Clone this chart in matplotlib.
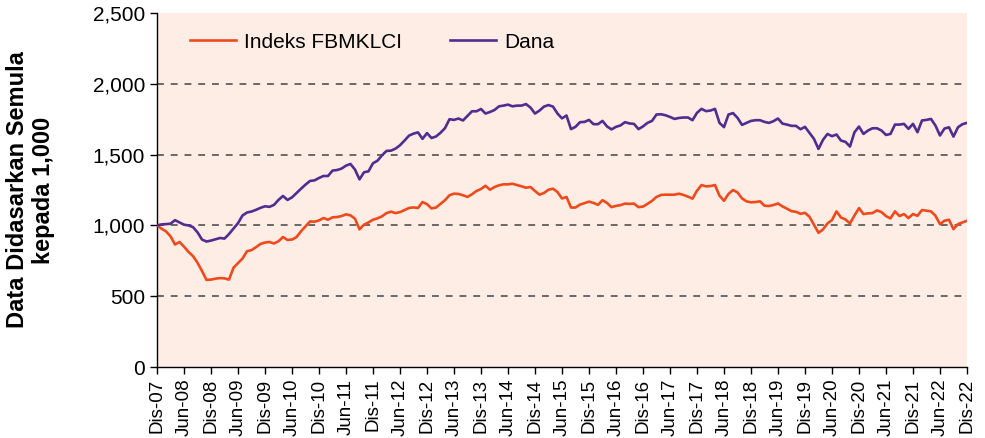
import matplotlib
matplotlib.use('Agg')
from matplotlib import pyplot as plt
import numpy as np

plt.rcParams['font.family'] = ['Liberation Sans', 'DejaVu Sans']

# nilai bulanan Dis-07 .. Dis-22 (asas 1,000)
fbmklci = [
    1000, 977, 958, 923, 865, 883, 850, 813, 783, 736, 678, 615,
    617, 624, 628, 626, 617, 701, 734, 766, 818, 825, 846, 869,
    879, 883, 872, 888, 918, 897, 900, 917, 958, 993, 1028, 1026,
    1035, 1052, 1040, 1057, 1059, 1066, 1078, 1071, 1047, 972, 1005, 1021,
    1040, 1050, 1064, 1087, 1097, 1087, 1094, 1108, 1123, 1127, 1123, 1165,
    1150, 1120, 1126, 1152, 1178, 1213, 1224, 1222, 1213, 1201, 1220, 1243,
    1257, 1280, 1252, 1271, 1283, 1290, 1290, 1294, 1285, 1276, 1266, 1271,
    1243, 1217, 1229, 1252, 1259, 1236, 1190, 1201, 1126, 1126, 1147, 1157,
    1168, 1159, 1145, 1178, 1159, 1129, 1138, 1143, 1154, 1152, 1154, 1129,
    1133, 1152, 1173, 1201, 1215, 1217, 1217, 1217, 1224, 1215, 1203, 1189,
    1245, 1285, 1276, 1278, 1285, 1210, 1174, 1222, 1250, 1233, 1191, 1170,
    1163, 1165, 1170, 1139, 1137, 1144, 1155, 1134, 1118, 1101, 1096, 1082,
    1089, 1061, 1004, 948, 971, 1014, 1038, 1099, 1056, 1042, 1014, 1070,
    1122, 1080, 1085, 1087, 1106, 1094, 1066, 1049, 1099, 1066, 1080, 1052,
    1080, 1068, 1108, 1104, 1099, 1068, 1009, 1033, 1040, 974, 1009, 1021,
    1033,
]

dana = [
    1000, 1007, 1009, 1012, 1037, 1021, 1005, 1000, 988, 951, 900, 886,
    893, 902, 911, 907, 939, 977, 1016, 1070, 1091, 1098, 1110, 1124,
    1135, 1131, 1145, 1180, 1208, 1180, 1198, 1229, 1259, 1288, 1314, 1318,
    1335, 1349, 1349, 1387, 1391, 1401, 1422, 1434, 1394, 1325, 1375, 1382,
    1439, 1457, 1495, 1526, 1528, 1542, 1566, 1599, 1634, 1648, 1657, 1611,
    1652, 1617, 1628, 1654, 1687, 1750, 1745, 1755, 1741, 1773, 1806, 1806,
    1822, 1790, 1801, 1815, 1841, 1846, 1853, 1841, 1846, 1846, 1857, 1832,
    1790, 1811, 1839, 1850, 1839, 1790, 1756, 1776, 1680, 1696, 1729, 1731,
    1745, 1715, 1715, 1738, 1699, 1678, 1696, 1706, 1729, 1720, 1717, 1680,
    1699, 1724, 1738, 1783, 1785, 1778, 1766, 1752, 1759, 1762, 1762, 1743,
    1795, 1823, 1807, 1811, 1823, 1724, 1694, 1783, 1793, 1760, 1710, 1724,
    1738, 1743, 1743, 1731, 1724, 1736, 1755, 1719, 1712, 1703, 1703, 1679,
    1696, 1653, 1611, 1540, 1604, 1646, 1630, 1642, 1599, 1590, 1557, 1658,
    1698, 1646, 1670, 1686, 1686, 1670, 1639, 1646, 1712, 1712, 1717, 1682,
    1717, 1658, 1741, 1745, 1752, 1705, 1635, 1684, 1693, 1627, 1693, 1715,
    1724,
]

# label paksi-x setiap 6 bulan
tahun = range(7, 23)
label_x = []
for t in tahun:
    if t > 7:
        label_x.append('Jun-%02d' % t)
    label_x.append('Dis-%02d' % t)

bulan = np.arange(len(fbmklci))

fig = plt.figure(figsize=(9.85, 4.38), dpi=100)
ax = fig.add_axes([0.1594, 0.1621, 0.8223, 0.8082])
ax.set_facecolor('#FDEDE5')

ax.plot(bulan, fbmklci, color='#EF4A1C', linewidth=1.9, label='Indeks FBMKLCI', zorder=3)
ax.plot(bulan, dana, color='#522C8E', linewidth=1.9, label='Dana', zorder=3)

ax.set_xlim(0, len(bulan) - 1)
ax.set_ylim(0, 2500)
ax.set_yticks(range(0, 2501, 500))
ax.set_yticklabels(['{:,}'.format(v) for v in range(0, 2501, 500)], fontsize=15)
ax.set_xticks(bulan[::6])
ax.set_xticklabels(label_x, rotation=90, fontsize=13.5)

# garis grid putus-putus (tanpa 0 dan 2,500)
ax.yaxis.grid(True, linestyle=(0, (4.5, 4.5)), color='#444444', linewidth=1.1)
gl = ax.get_ygridlines()
gl[0].set_visible(False)
gl[-1].set_visible(False)
ax.set_axisbelow(True)

for s in ['top', 'right']:
    ax.spines[s].set_visible(False)
ax.spines['left'].set_linewidth(1.0)
ax.spines['bottom'].set_linewidth(1.0)
ax.tick_params(direction='out', length=5, width=1.0, colors='black')

ax.set_ylabel('Data Didasarkan Semula\nkepada 1,000', fontsize=17, fontweight='bold',
              linespacing=1.2, labelpad=27)

ax.legend(loc='center left', bbox_to_anchor=(0.041, 0.918), ncol=2, frameon=False,
          fontsize=15, handlelength=2.2, handletextpad=0.4, columnspacing=2.3,
          borderpad=0, borderaxespad=0)

plt.savefig('out.png', dpi=100)
